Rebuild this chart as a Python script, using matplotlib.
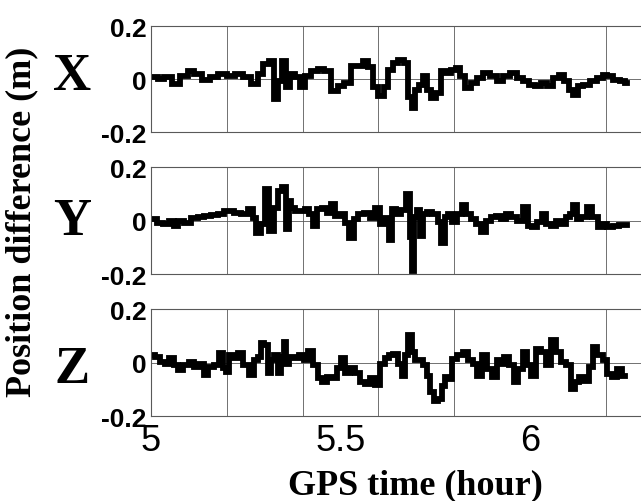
import matplotlib
matplotlib.use('Agg')
import matplotlib.pyplot as plt

# X component: time (hour), difference (m)
t_x = [5.009, 5.026, 5.044, 5.066, 5.088, 5.106, 5.123, 5.145, 5.167, 5.189,
       5.211, 5.233, 5.255, 5.273, 5.290, 5.303, 5.321, 5.330, 5.339, 5.352,
       5.361, 5.374, 5.387, 5.400, 5.413, 5.431, 5.449, 5.466, 5.484, 5.501,
       5.519, 5.536, 5.554, 5.567, 5.580, 5.589, 5.607, 5.620, 5.631, 5.644,
       5.661, 5.675, 5.683, 5.692, 5.701, 5.714, 5.723, 5.732, 5.745, 5.758,
       5.771, 5.785, 5.798, 5.811, 5.820, 5.837, 5.850, 5.868, 5.886, 5.903,
       5.921, 5.938, 5.956, 5.974, 5.991, 6.004, 6.022, 6.035, 6.053, 6.070,
       6.084, 6.097, 6.110, 6.119, 6.132, 6.149, 6.167, 6.185, 6.198, 6.211,
       6.229, 6.246, 6.255]
d_x = [0.006, 0.000, 0.006, -0.019, 0.013, 0.031, 0.019, -0.004, 0.006, 0.021,
       0.013, 0.019, 0.006, -0.019, 0.019, 0.057, 0.067, -0.076, -0.006, 0.069,
       -0.031, 0.019, 0.006, -0.031, 0.013, 0.031, 0.038, 0.031, -0.044, -0.025,
       -0.013, 0.050, 0.050, 0.069, 0.044, -0.031, -0.063, -0.031, 0.035, 0.060,
       0.073, 0.060, -0.066, -0.110, -0.040, -0.021, 0.010, -0.040, -0.072, -0.053,
       0.029, 0.023, 0.035, 0.042, 0.010, -0.034, -0.015, 0.004, 0.023, 0.010,
       -0.009, 0.010, 0.023, 0.004, -0.009, -0.021, -0.028, -0.015, -0.028, 0.004,
       0.016, -0.009, -0.040, -0.059, -0.028, -0.021, -0.009, 0.004, 0.016, 0.010,
       -0.003, -0.009, -0.013]

# Y component
t_y = [5.009, 5.022, 5.040, 5.053, 5.066, 5.079, 5.097, 5.114, 5.132, 5.150,
       5.167, 5.185, 5.198, 5.211, 5.229, 5.246, 5.264, 5.273, 5.283, 5.295,
       5.308, 5.317, 5.330, 5.339, 5.352, 5.361, 5.365, 5.374, 5.387, 5.400,
       5.413, 5.422, 5.431, 5.444, 5.457, 5.471, 5.479, 5.493, 5.506, 5.519,
       5.528, 5.541, 5.554, 5.572, 5.585, 5.598, 5.611, 5.624, 5.633, 5.639,
       5.653, 5.666, 5.679, 5.688, 5.692, 5.697, 5.705, 5.714, 5.723, 5.736,
       5.749, 5.763, 5.770, 5.780, 5.789, 5.802, 5.815, 5.824, 5.837, 5.850,
       5.864, 5.877, 5.890, 5.903, 5.916, 5.930, 5.943, 5.956, 5.974, 5.987,
       6.000, 6.013, 6.026, 6.035, 6.048, 6.062, 6.075, 6.088, 6.101, 6.110,
       6.119, 6.128, 6.141, 6.158, 6.172, 6.185, 6.198, 6.211, 6.229, 6.242,
       6.255]
d_y = [0.005, -0.008, -0.014, -0.001, -0.020, -0.001, -0.008, 0.011, 0.014, 0.018,
       0.021, 0.026, 0.037, 0.037, 0.030, 0.024, 0.043, 0.011, -0.045, -0.014,
       0.118, -0.039, 0.049, 0.112, 0.125, -0.033, 0.074, 0.049, 0.037, 0.037,
       0.043, 0.024, -0.020, 0.043, 0.049, 0.030, 0.062, 0.018, 0.024, -0.008,
       -0.064, 0.005, 0.024, 0.030, 0.011, 0.049, -0.014, 0.011, -0.071, 0.044,
       0.025, 0.038, 0.101, -0.063, -0.189, 0.013, 0.038, -0.057, 0.025, 0.032,
       0.025, -0.006, -0.082, 0.013, 0.025, -0.006, 0.025, 0.057, 0.025, 0.006,
       -0.013, -0.044, 0.000, 0.013, 0.019, 0.006, 0.025, 0.013, 0.000, 0.050,
       -0.019, -0.025, -0.006, 0.025, -0.013, -0.019, 0.000, -0.013, 0.013, 0.025,
       0.057, 0.006, 0.013, 0.050, 0.013, -0.025, -0.013, -0.025, -0.019, -0.015,
       -0.015]

# Z component
t_z = [5.004, 5.018, 5.031, 5.044, 5.053, 5.066, 5.079, 5.092, 5.106, 5.119,
       5.132, 5.145, 5.158, 5.172, 5.185, 5.193, 5.202, 5.211, 5.224, 5.237,
       5.251, 5.264, 5.277, 5.286, 5.295, 5.303, 5.312, 5.321, 5.330, 5.339,
       5.347, 5.354, 5.361, 5.369, 5.383, 5.396, 5.409, 5.422, 5.435, 5.444,
       5.457, 5.471, 5.484, 5.497, 5.506, 5.519, 5.532, 5.545, 5.558, 5.572,
       5.585, 5.598, 5.611, 5.624, 5.631, 5.644, 5.657, 5.666, 5.675, 5.683,
       5.692, 5.701, 5.714, 5.723, 5.732, 5.741, 5.754, 5.763, 5.771, 5.780,
       5.789, 5.802, 5.815, 5.829, 5.842, 5.855, 5.868, 5.881, 5.894, 5.908,
       5.916, 5.925, 5.938, 5.952, 5.965, 5.974, 5.987, 5.996, 6.009, 6.022,
       6.035, 6.048, 6.062, 6.075, 6.088, 6.101, 6.114, 6.123, 6.136, 6.149,
       6.163, 6.171, 6.185, 6.198, 6.211, 6.224, 6.237, 6.251]
d_z = [0.029, 0.023, 0.004, -0.003, 0.016, -0.009, -0.028, -0.009, 0.004, -0.015,
       -0.003, -0.047, -0.015, -0.009, 0.035, -0.021, -0.034, 0.029, 0.016, 0.035,
       -0.009, -0.047, 0.010, 0.023, 0.073, 0.067, -0.040, 0.010, 0.029, -0.040,
       0.023, 0.079, -0.003, 0.023, 0.016, 0.029, 0.010, 0.042, -0.009, -0.059,
       -0.072, -0.053, -0.059, -0.021, 0.016, -0.040, -0.021, -0.040, -0.072, -0.078,
       -0.059, -0.084, -0.003, 0.016, 0.028, 0.034, -0.004, -0.048, 0.028, 0.103,
       0.040, 0.009, 0.009, -0.010, -0.048, -0.111, -0.142, -0.136, -0.086, -0.054,
       -0.060, 0.015, 0.028, 0.040, 0.009, -0.004, -0.048, 0.028, -0.023, -0.054,
       0.009, -0.004, 0.021, -0.010, -0.073, -0.023, 0.040, -0.010, -0.048, 0.053,
       0.040, -0.010, 0.084, 0.040, 0.003, -0.010, -0.098, -0.073, -0.054, -0.067,
       -0.016, 0.059, 0.028, 0.009, -0.042, -0.054, -0.023, -0.048]

components = ['X', 'Y', 'Z']
series = [(t_x, d_x), (t_y, d_y), (t_z, d_z)]
y_ticks = [-0.2, 0, 0.2]
y_ticklabels = ['-0.2', '0', '0.2']
x_ticks = [5, 5.5, 6]
x_ticklabels = ['5', '5.5', '6']
x_grid = [5.0, 5.2, 5.4, 5.6, 5.8, 6.0, 6.2]

fig = plt.figure(figsize=(6.41, 5.02), dpi=100)

# panel boxes in figure coords (left, bottom, width, height)
boxes = [(0.2356, 0.735, 0.7644, 0.211),
         (0.2356, 0.452, 0.7644, 0.213),
         (0.2356, 0.169, 0.7644, 0.213)]
letter_y = [77.5, 222, 370]

for i, (box, (t, d), comp) in enumerate(zip(boxes, series, components)):
    ax = fig.add_axes(box)
    ax.plot(t, d, color='black', lw=4.2, drawstyle='steps-mid',
            solid_joinstyle='miter')
    ax.set_xlim(5, 6.293)
    ax.set_ylim(-0.2, 0.2)

    ax.set_yticks(y_ticks)
    ax.set_yticklabels(y_ticklabels, fontfamily='Liberation Sans',
                       fontweight='bold', fontsize=19)
    ax.set_xticks(x_ticks)
    if i == 2:
        ax.set_xticklabels(x_ticklabels, fontfamily='Liberation Sans',
                           fontsize=26)
    else:
        ax.set_xticklabels([])
    ax.set_xticks(x_grid, minor=True)
    ax.tick_params(which='both', length=0)
    ax.tick_params(axis='y', pad=3)
    ax.tick_params(axis='x', pad=5)

    ax.grid(False)
    ax.grid(True, axis='x', which='minor', color='0.35', lw=0.6)
    ax.grid(True, axis='y', which='major', color='0.35', lw=0.6)
    ax.spines['right'].set_visible(False)
    for s in ['left', 'top', 'bottom']:
        ax.spines[s].set_color('0.35')
        ax.spines[s].set_linewidth(0.8)

    fig.text(72 / 641, 1 - letter_y[i] / 502, comp, ha='center', va='center',
             fontfamily='Liberation Serif', fontweight='bold', fontsize=38)

fig.text(22 / 641, 1 - 222 / 502, 'Position difference (m)', rotation=90,
         ha='center', va='center', fontfamily='Liberation Serif',
         fontweight='bold', fontsize=26)
fig.text(415 / 641, 1 - 486 / 502, 'GPS time (hour)', ha='center', va='center',
         fontfamily='Liberation Serif', fontweight='bold', fontsize=26)

fig.savefig('out.png', dpi=100)
